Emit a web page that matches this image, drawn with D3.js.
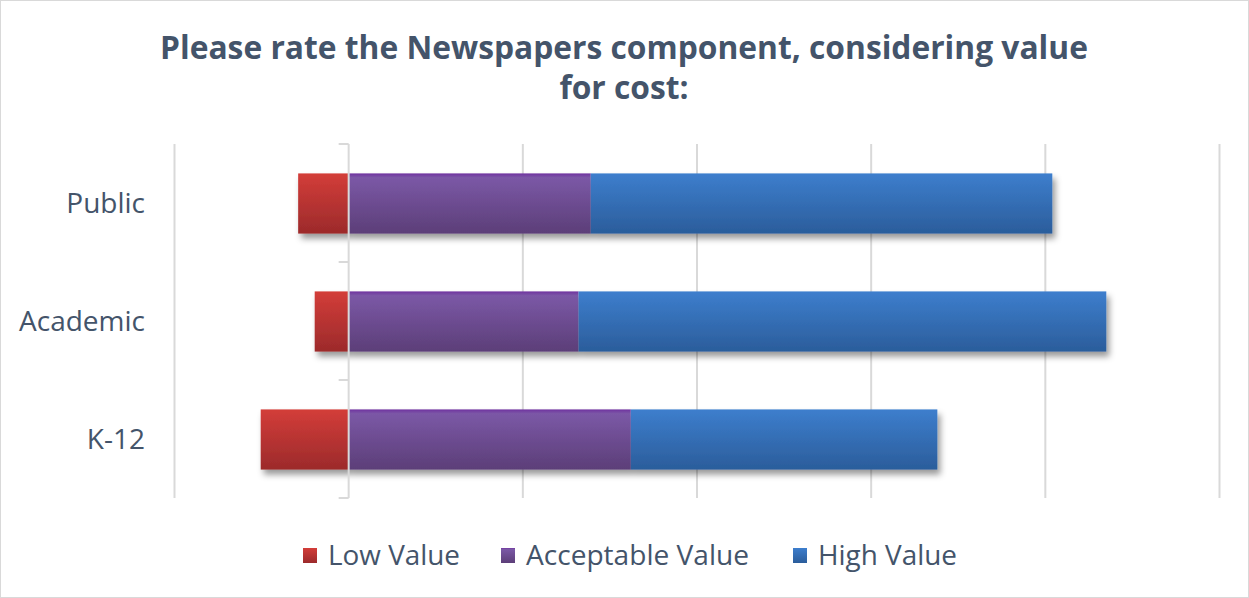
<!DOCTYPE html>
<html><head><meta charset="utf-8">
<script src="https://cdn.jsdelivr.net/npm/d3@7/dist/d3.min.js"></script>
<style>html,body{margin:0;padding:0;background:#fff;}svg{display:block;}</style>
</head><body>
<svg id="chart" width="1249" height="598"></svg>
<script>
const categories = ["Public", "Academic", "K-12"];
const seriesNames = ["Low Value", "Acceptable Value", "High Value"];
const lowValues = [-2.9, -1.95, -5.05];
const acceptableValues = [13.9, 13.2, 16.2];
const highValues = [26.5, 30.3, 17.6];
const gridTicks = [-10, 0, 10, 20, 30, 40, 50];
const titleLines = ["Please rate the Newspapers component, considering value", "for cost:"];

const W = 1249, H = 598;
const svg = d3.select("#chart");
const FONT = "'Open Sans', 'Liberation Sans', sans-serif";
const textColor = "#44546a";

// border
svg.append("rect").attr("x", 0.5).attr("y", 0.5).attr("width", W - 1).attr("height", H - 1)
  .attr("fill", "#fff").attr("stroke", "#d9d9d9");

const defs = svg.append("defs");
const grads = [
  {id: "gLow", stops: [[0, "#d33d39"], [1, "#9c2a2b"]]},
  {id: "gAcc", stops: [[0, "#7030a0"], [0.07, "#7b58a6"], [1, "#5c3e78"]]},
  {id: "gHigh", stops: [[0, "#3d7ecd"], [1, "#2b5d9b"]]}
];
grads.forEach(g => {
  const lg = defs.append("linearGradient").attr("id", g.id).attr("x1", 0).attr("y1", 0).attr("x2", 0).attr("y2", 1);
  g.stops.forEach(s => lg.append("stop").attr("offset", s[0]).attr("stop-color", s[1]));
});
const f = defs.append("filter").attr("id", "shadow").attr("x", "-10%").attr("y", "-20%").attr("width", "130%").attr("height", "160%");
f.append("feDropShadow").attr("dx", 3).attr("dy", 5).attr("stdDeviation", 3).attr("flood-color", "#000").attr("flood-opacity", 0.4);

const x = d3.scaleLinear().domain([-10, 50]).range([174.5, 1219.5]);
const y = d3.scaleBand().domain(categories).range([144, 498]).paddingInner(0.49).paddingOuter(0.245);

// gridlines
svg.append("g").selectAll("line").data(gridTicks.filter(t => t !== 0)).join("line")
  .attr("x1", d => x(d)).attr("x2", d => x(d)).attr("y1", 144).attr("y2", 498)
  .attr("stroke", "#d9d9d9").attr("stroke-width", 2);

// bars
const rows = categories.map((c, i) => ({
  cat: c,
  segs: [
    {x0: lowValues[i], x1: 0, fill: "url(#gLow)"},
    {x0: 0, x1: acceptableValues[i], fill: "url(#gAcc)"},
    {x0: acceptableValues[i], x1: acceptableValues[i] + highValues[i], fill: "url(#gHigh)"}
  ]
}));
const barG = svg.append("g");
rows.forEach(r => {
  const g = barG.append("g").attr("filter", "url(#shadow)");
  g.selectAll("rect").data(r.segs).join("rect")
    .attr("x", d => x(Math.min(d.x0, d.x1)))
    .attr("width", d => Math.abs(x(d.x1) - x(d.x0)))
    .attr("y", y(r.cat) + 0.5).attr("height", y.bandwidth())
    .attr("fill", d => d.fill);
});

// category axis at zero
const axisG = svg.append("g").attr("transform", `translate(${x(0)},0)`);
axisG.append("line").attr("x1", 0).attr("x2", 0).attr("y1", 144).attr("y2", 498)
  .attr("stroke", "#d9d9d9").attr("stroke-width", 2);
const boundaries = [144].concat(categories.map(c => y(c) + y.bandwidth() / 2 + y.step() / 2));
axisG.selectAll("line.tick").data(boundaries).join("line").attr("class", "tick")
  .attr("x1", -10).attr("x2", 0).attr("y1", d => d).attr("y2", d => d)
  .attr("stroke", "#d9d9d9").attr("stroke-width", 2);

function fitWidth(sel, target) {
  const w = sel.node().getComputedTextLength();
  const fs = parseFloat(sel.attr("font-size"));
  sel.attr("font-size", fs * target / w);
}

// category labels
const labels = svg.append("g").selectAll("text").data(categories).join("text")
  .attr("x", 145).attr("y", d => y(d) + y.bandwidth() / 2 + 10)
  .attr("text-anchor", "end").attr("font-family", FONT).attr("font-size", 25)
  .attr("fill", textColor).text(d => d);
const acadLabel = labels.filter(d => d === "Academic");
const baseW = acadLabel.node().getComputedTextLength();
labels.attr("font-size", 25 * 126 / baseW);

// title
const t1 = svg.append("text").attr("x", 624).attr("y", 59).attr("text-anchor", "middle")
  .attr("font-family", FONT).attr("font-weight", "bold").attr("font-size", 30).attr("fill", textColor).text(titleLines[0]);
fitWidth(t1, 928);
svg.append("text").attr("x", 624).attr("y", 99).attr("text-anchor", "middle")
  .attr("font-family", FONT).attr("font-weight", "bold").attr("font-size", t1.attr("font-size")).attr("fill", textColor).text(titleLines[1]);

// legend
const legendX = [303, 501, 793];
const legendW = [132, 223, 139];
const lg = svg.append("g");
seriesNames.forEach((s, i) => {
  lg.append("rect").attr("x", legendX[i]).attr("y", 548).attr("width", 14).attr("height", 15)
    .attr("fill", `url(#${grads[i].id})`);
  const t = lg.append("text").attr("x", legendX[i] + 25).attr("y", 565)
    .attr("font-family", FONT).attr("font-size", 24).attr("fill", textColor).text(s);
  fitWidth(t, legendW[i]);
});
</script>
</body></html>
